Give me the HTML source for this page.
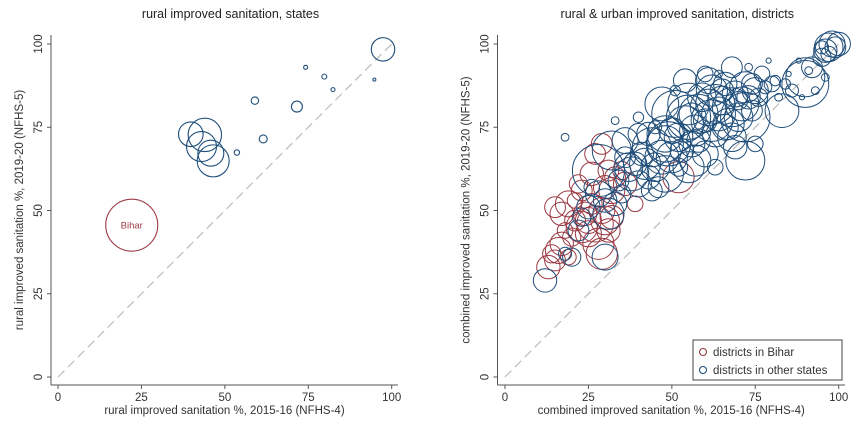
<!DOCTYPE html>
<html><head><meta charset="utf-8"><style>
body{margin:0;background:#fff;}
svg{display:block;font-family:"Liberation Sans",sans-serif;}
</style></head><body>
<svg id="c" width="866" height="423"></svg>
<script>
// left panel: states [x, y, size]
const stateX=[97.4,74.2,79.8,82.4,94.8,59,71.6,61.5,53.6,39.8,44,43,46.5,45.8];
const stateY=[98.4,93,90.2,86.3,89.3,83,81.2,71.5,67.4,72.9,72.7,69.2,64.9,67.2];
const stateR=[11.7,2,2.5,2,1.5,3.7,5.5,4,2.7,12.3,16.7,15,16,13];
const biharState=[22.1,45.6,26];
// right panel: districts
const biharX=[13,15,16,14,17,19,15,17,19,21,23,25,24,27,28,26,29,30,31,22,23,26,27,29,30,32,31,33,35,36,39,32,18,20,52,29,25,21];
const biharY=[33,35,38,37,40,36,51,49,52,47,45,43,49,46,40,52,50,47,44,58,56,61,67,70,57,56,62,60,62,58,52,48,44,42,60,37,47,53];
const biharR=[9,8,10,7,9,6,8,9,10,8,12,10,9,14,12,8,10,11,9,7,8,9,8,8,9,10,8,8,7,9,6,9,6,7,12,12,10,6];
const otherX=[12,18,20,22,30,18,28,32,36,40,41,37,34,30,28,25,23,31,33,35,26,38,40,42,44,43,45,47,46,48,49,50,50,51,52,53,54,55,56,57,58,59,60,61,62,63,64,65,66,67,68,69,70,71,72,73,74,75,76,78,80,82,84,86,90,92,95,96,97,98,99,100,97,95,88,85,79,73,51,64,75,68,72,69,60,57,63,45,40,33,54,61,68,47,43,36,52,58,66,74,77,81,93,96,89,91,62,55,48,39,44,56,65,70,60,83,90,72,55,63,48];
const otherY=[29,37,36,44,36,72,62,68,71,73,67,63,59,53,55,51,48,49,52,55,57,61,58,64,69,60,63,66,57,61,70,66,74,79,72,68,76,82,70,74,79,84,77,81,86,73,79,83,88,76,81,85,78,82,87,84,80,86,84,87,88,84,88,86,90,93,96,98,99,100,99,100,97,99,95,91,95,93,86,91,70,72,65,69,67,65,63,75,78,77,89,89,93,82,73,66,63,71,75,88,91,89,86,90,84,92,77,63,73,64,56,78,86,83,91,80,88,78,78,82,70];
const otherR=[9,5,7,8,10,3,20,15,10,8,9,11,8,9,10,9,7,12,9,7,6,13,10,12,15,9,11,13,8,14,17,12,10,18,11,9,14,16,10,12,15,11,9,14,12,10,13,11,9,12,15,10,11,13,12,9,8,10,7,5,6,3,4,5,15,8,7,9,11,10,8,9,6,5,2,2,2,3,4,3,6,11,15,9,10,12,6,5,4,3,9,10,8,13,9,8,7,9,10,8,6,4,3,3,2,3,16,12,14,9,8,11,9,7,6,13,18,19,17,15,14];
const ticks=[0,25,50,75,100];

const NS="http://www.w3.org/2000/svg";
const svg=document.getElementById('c');
const BLUE="#1f4e7a",RED="#9b3a44",GRAY="#555";
const RSCALE=1.3;
function mk(tag,attrs,parent){const e=document.createElementNS(NS,tag);for(const k in attrs)e.setAttribute(k,attrs[k]);(parent||svg).appendChild(e);return e;}

function panel(cfg){
  const g=mk('g',{});
  
  
  const sx=v=>cfg.x0+(cfg.x1-cfg.x0)*v/100;
  const sy=v=>377-(377-44)*v/100;
  const t=mk('text',{x:(cfg.ax+cfg.axEnd)/2+6,y:18,'text-anchor':'middle','font-size':12.5,fill:'#222'},g);
  t.textContent=cfg.title;
  
  
  const d=mk('line',{x1:sx(0),y1:sy(0),x2:sx(100),y2:sy(100),stroke:'#bbb','stroke-width':1.2,'stroke-dasharray':'9,5'},g);
  
  
  const ya=mk('line',{x1:cfg.ax,y1:35,x2:cfg.ax,y2:385,stroke:GRAY,'stroke-width':1},g);
  
  
  const xa=mk('line',{x1:cfg.ax,y1:385,x2:cfg.axEnd,y2:385,stroke:GRAY,'stroke-width':1},g);
  
  
  ticks.forEach(v=>{
    mk('line',{x1:cfg.ax-4,y1:sy(v),x2:cfg.ax,y2:sy(v),stroke:GRAY},g);
    const yl=mk('text',{x:0,y:0,transform:`translate(${cfg.ax-9},${sy(v)}) rotate(-90)`,'text-anchor':'middle','font-size':11.5,fill:'#333'},g);
    yl.textContent=v;
    
    
    mk('line',{x1:sx(v),y1:385,x2:sx(v),y2:389,stroke:GRAY},g);
    const xl=mk('text',{x:sx(v),y:401,'text-anchor':'middle','font-size':11.5,fill:'#333'},g);
    xl.textContent=v;
    
    
  });
  const xt=mk('text',{x:(cfg.ax+cfg.axEnd)/2,y:414,'text-anchor':'middle','font-size':11.5,fill:'#333'},g);
  xt.textContent=cfg.xtitle;
  
  
  const yt=mk('text',{x:0,y:0,transform:`translate(${cfg.ax-28},${210}) rotate(-90)`,'text-anchor':'middle','font-size':11.5,fill:'#333'},g);
  yt.textContent=cfg.ytitle;
  
  
  return {g,sx,sy};
}

const L=panel({name:'states-panel',x0:58,x1:391.7,ax:51,axEnd:398,title:'rural improved sanitation, states',xtitle:'rural improved sanitation %, 2015-16 (NFHS-4)',ytitle:'rural improved sanitation %, 2019-20 (NFHS-5)'});
stateX.forEach((x,i)=>{
  const c=mk('circle',{cx:L.sx(x),cy:L.sy(stateY[i]),r:stateR[i],fill:'none',stroke:BLUE,'stroke-width':1.1},L.g);
  
  
});
const bc=mk('circle',{cx:L.sx(biharState[0]),cy:L.sy(biharState[1]),r:biharState[2],fill:'none',stroke:RED,'stroke-width':1.1},L.g);


const bt=mk('text',{x:L.sx(biharState[0]),y:L.sy(biharState[1])+3.5,'text-anchor':'middle','font-size':9.5,fill:RED},L.g);
bt.textContent='Bihar';



const R=panel({name:'districts-panel',x0:505,x1:838.7,ax:497.5,axEnd:845,title:'rural & urban improved sanitation, districts',xtitle:'combined improved sanitation %, 2015-16 (NFHS-4)',ytitle:'combined improved sanitation %, 2019-20 (NFHS-5)'});
biharX.forEach((x,i)=>{
  const c=mk('circle',{cx:R.sx(x),cy:R.sy(biharY[i]),r:biharR[i]*RSCALE,fill:'none',stroke:RED,'stroke-width':1},R.g);
  
  
});
otherX.forEach((x,i)=>{
  const c=mk('circle',{cx:R.sx(x),cy:R.sy(otherY[i]),r:otherR[i]*RSCALE,fill:'none',stroke:BLUE,'stroke-width':1},R.g);
  
  
});
const lg=mk('g',{},R.g);


mk('rect',{x:693,y:340,width:149,height:40,fill:'#fff',stroke:'#444','stroke-width':1},lg);
[[RED,'districts in Bihar',352],[BLUE,'districts in other states',370]].forEach(([col,lab,y])=>{
  const e=mk('g',{},lg);
  
  
  mk('circle',{cx:703,cy:y,r:3.5,fill:'none',stroke:col,'stroke-width':1.1},e);
  const t=mk('text',{x:713,y:y+4,'font-size':11.5,fill:'#333'},e);
  t.textContent=lab;
});
</script>
</body></html>
